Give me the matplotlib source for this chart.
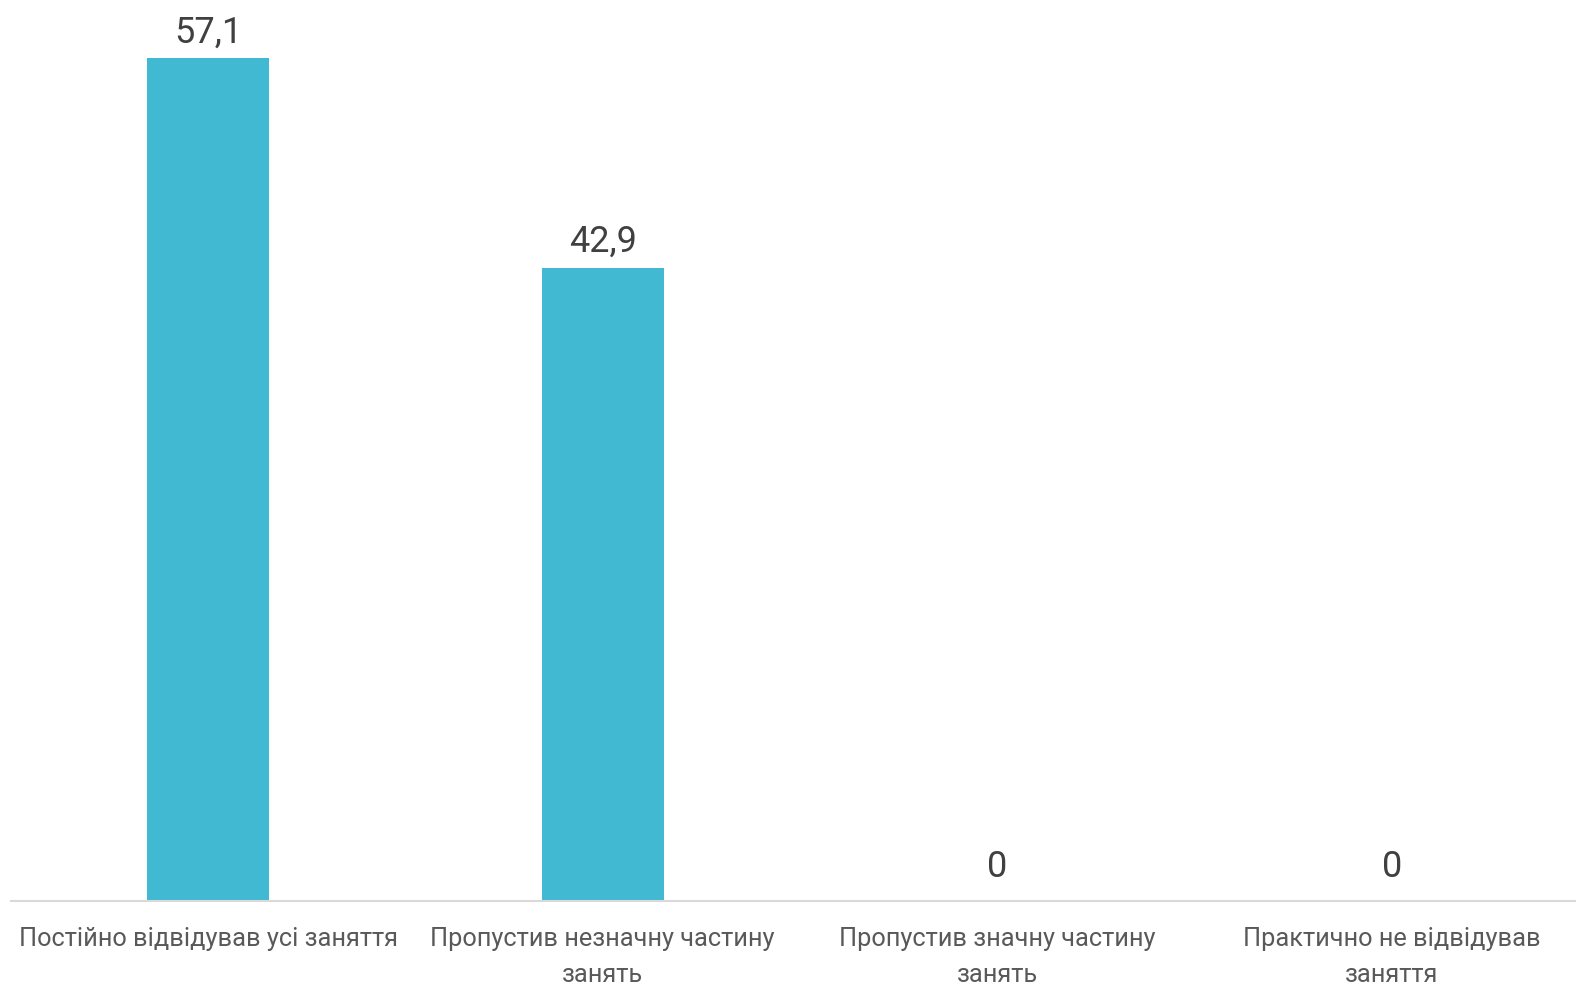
import matplotlib
matplotlib.use("Agg")
import matplotlib.pyplot as plt

categories = [
    "Постійно відвідував усі заняття",
    "Пропустив незначну частину\nзанять",
    "Пропустив значну частину\nзанять",
    "Практично не відвідував\nзаняття",
]
values = [57.1, 42.9, 0, 0]
value_labels = ["57,1", "42,9", "0", "0"]

plt.rcParams['font.family'] = ['Roboto', 'DejaVu Sans']

fig = plt.figure(figsize=(15.76, 9.84), dpi=100)
# axes box in figure pixels: left 11, right 1589, bottom 901 (from top), top 15
W, H = 1576, 984
ax = fig.add_axes([11 / W, (H - 901) / H, (1589 - 11) / W, (901 - 15) / H])

x = range(len(categories))
ax.bar(x, values, width=0.31, color="#41B9D2", zorder=2)

for xi, v, lab in zip(x, values, value_labels):
    off = 11 if v > 0 else 17
    ax.annotate(lab, (xi, v), xytext=(0, off), textcoords="offset points",
                ha="center", va="baseline", fontsize=26, color="#404040")

ax.set_xlim(-0.5, len(categories) - 0.5)
ax.set_ylim(0, 60)
ax.set_xticks(list(x))
ax.set_xticklabels(categories, fontsize=18.3, color="#595959", linespacing=1.6)
ax.tick_params(axis="x", length=0, pad=19)
ax.set_yticks([])
for s in ["top", "right", "left"]:
    ax.spines[s].set_visible(False)
ax.spines["bottom"].set_color("#D9D9D9")
ax.spines["bottom"].set_linewidth(1.5)

fig.savefig("out.png", dpi=100)
